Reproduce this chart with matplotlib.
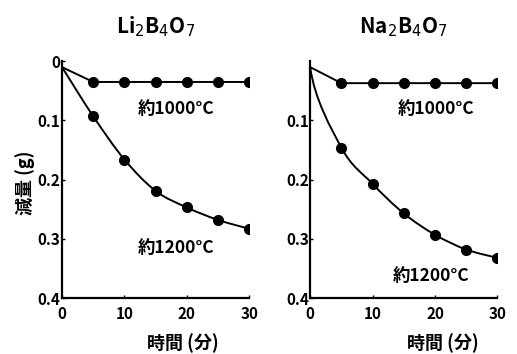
import matplotlib
matplotlib.use("Agg")
import matplotlib.pyplot as plt
from matplotlib.path import Path
from matplotlib.patches import PathPatch

plt.rcParams['font.family'] = ['Noto Sans CJK JP', 'DejaVu Sans']
plt.rcParams['mathtext.fontset'] = 'dejavusans'

minutes = [0, 5, 10, 15, 20, 25, 30]
li_1000 = [0.01, 0.035, 0.035, 0.035, 0.035, 0.035, 0.035]
li_1200 = [0.01, 0.093, 0.166, 0.219, 0.247, 0.268, 0.283]
na_1000 = [0.01, 0.037, 0.037, 0.037, 0.037, 0.037, 0.037]
na_1200 = [0.01, 0.146, 0.207, 0.257, 0.293, 0.318, 0.332]

titles = [r"Li$_2$B$_4$O$_7$", r"Na$_2$B$_4$O$_7$"]
label_1000 = "約1000°C"
label_1200 = "約1200°C"


def smooth_path(xs, ys, steep_start=False):
    # catmull-rom through the measured points, drawn as cubic bezier
    verts = [(xs[0], ys[0])]
    codes = [Path.MOVETO]
    n = len(xs)
    for i in range(n - 1):
        p0 = (xs[i - 1], ys[i - 1]) if i > 0 else (xs[i], ys[i])
        p1 = (xs[i], ys[i])
        p2 = (xs[i + 1], ys[i + 1])
        p3 = (xs[i + 2], ys[i + 2]) if i + 2 < n else p2
        c1 = (p1[0] + (p2[0] - p0[0]) / 6, p1[1] + (p2[1] - p0[1]) / 6)
        c2 = (p2[0] - (p3[0] - p1[0]) / 6, p2[1] - (p3[1] - p1[1]) / 6)
        if i == 0 and steep_start:
            c1 = (p1[0] + 0.7, p1[1] + (p2[1] - p1[1]) * 0.4)
        verts += [c1, c2, p2]
        codes += [Path.CURVE4] * 3
    return Path(verts, codes)


fig = plt.figure(figsize=(5.17, 3.54), dpi=100)
ax1 = fig.add_axes([0.120, 0.158, 0.362, 0.669])
ax2 = fig.add_axes([0.600, 0.158, 0.362, 0.669])

panels = [(ax1, li_1000, li_1200), (ax2, na_1000, na_1200)]
for k, (ax, low, high) in enumerate(panels):
    ax.plot(minutes, low, color='black', lw=1.4)
    ax.plot(minutes[1:], low[1:], 'o', color='black', ms=7)
    ax.add_patch(PathPatch(smooth_path(minutes, high, steep_start=(k == 1)),
                           fill=False, lw=1.4, ec='black'))
    ax.plot(minutes[1:], high[1:], 'o', color='black', ms=7)
    ax.set_xlim(0, 30)
    ax.set_ylim(0.4, 0)
    ax.spines['top'].set_visible(False)
    ax.spines['right'].set_visible(False)
    ax.spines['left'].set_linewidth(1.6)
    ax.spines['bottom'].set_linewidth(1.6)
    ax.set_xticks([0, 10, 20, 30])
    if k == 0:
        ax.set_yticks([0, 0.1, 0.2, 0.3, 0.4])
        ax.set_yticklabels(['0', '0.1', '0.2', '0.3', '0.4'])
    else:
        ax.set_yticks([0.1, 0.2, 0.3, 0.4])
        ax.set_yticklabels(['0.1', '0.2', '0.3', '0.4'])
    ax.tick_params(direction='in', length=2, width=1, labelsize=11)
    ax.tick_params(axis='x', pad=6)
    ax.tick_params(axis='y', pad=1)
    for t in ax.get_xticklabels() + ax.get_yticklabels():
        t.set_fontweight('bold')
    ax.set_title(titles[k], fontsize=15, pad=20, fontweight='bold')

ax1.text(12.1, 0.081, label_1000, fontsize=12.5, fontweight='bold', va='center')
ax1.text(12.1, 0.315, label_1200, fontsize=12.5, fontweight='bold', va='center')
ax2.text(14.0, 0.081, label_1000, fontsize=12.5, fontweight='bold', va='center')
ax2.text(13.2, 0.363, label_1200, fontsize=12.5, fontweight='bold', va='center')

fig.text(25 / 517, 1 - 183 / 354, "減量 (g)", rotation=90, fontsize=13,
         fontweight='bold', ha='center', va='center')
fig.text(183 / 517, 1 - 343 / 354, "時間 (分)", fontsize=13,
         fontweight='bold', ha='center', va='center')
fig.text(443 / 517, 1 - 343 / 354, "時間 (分)", fontsize=13,
         fontweight='bold', ha='center', va='center')

fig.savefig("out.png", dpi=100)
